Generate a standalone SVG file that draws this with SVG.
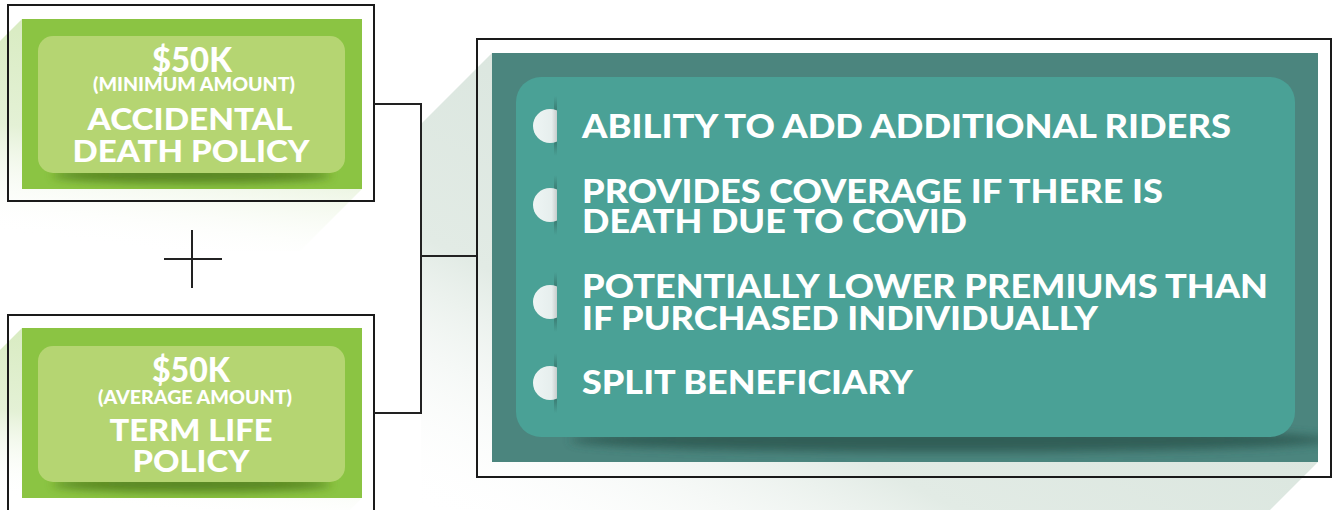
<svg xmlns="http://www.w3.org/2000/svg" width="1335" height="510" viewBox="0 0 1335 510">
<style>
.t{font-family:Lato,"Open Sans","Liberation Sans",sans-serif;font-weight:900;fill:#ffffff;}
.c{text-anchor:middle;}
.frame{fill:none;stroke:#1a1a1a;stroke-width:2;}
.conn{fill:none;stroke:#222;stroke-width:2;}
.gOut{fill:#8bc443;}
.gIn{fill:#b5d572;}
.tOut{fill:#4b857e;}
.tIn{fill:#4aa196;}
</style>
<defs>
<linearGradient id="shG" x1="0.6" y1="0" x2="0.4" y2="1">
<stop offset="0" stop-color="#d6eabd"/>
<stop offset="0.55" stop-color="#e4f1d6"/>
<stop offset="1" stop-color="#ffffff" stop-opacity="0"/>
</linearGradient>
<linearGradient id="shT" x1="1" y1="0" x2="0" y2="1">
<stop offset="0" stop-color="#cfded5"/>
<stop offset="0.7" stop-color="#e2ebe5"/>
<stop offset="1" stop-color="#ffffff" stop-opacity="0"/>
</linearGradient>
<linearGradient id="bulG" x1="0" y1="0" x2="1" y2="0">
<stop offset="0" stop-color="#eef5f4"/>
<stop offset="0.55" stop-color="#e6eeed"/>
<stop offset="1" stop-color="#8d8d8d"/>
</linearGradient>
<linearGradient id="bulL" x1="0" y1="0" x2="0" y2="1">
<stop offset="0" stop-color="#2e5f57" stop-opacity="0"/>
<stop offset="0.35" stop-color="#2e5f57" stop-opacity="0.8"/>
<stop offset="0.65" stop-color="#2e5f57" stop-opacity="0.8"/>
<stop offset="1" stop-color="#2e5f57" stop-opacity="0"/>
</linearGradient>
<filter id="blur" x="-20%" y="-100%" width="140%" height="300%">
<feGaussianBlur stdDeviation="5"/>
</filter>
<clipPath id="cg1"><rect x="22" y="19" width="340" height="170"/></clipPath>
<clipPath id="cg2"><rect x="22" y="328" width="340" height="170"/></clipPath>
<clipPath id="ct"><rect x="492" y="53" width="826" height="409"/></clipPath>
<clipPath id="cbx"><rect x="530" y="-20" width="27" height="40"/></clipPath>
<g id="bullet">
<rect x="554" y="-30" width="3" height="60" fill="url(#bulL)"/>
<circle cx="550" cy="0" r="17" fill="url(#bulG)" clip-path="url(#cbx)"/>
</g>
</defs>
<rect width="1335" height="510" fill="#ffffff"/>

<g id="shadows">
<polygon points="22,19 362,189 300,251 0,251 0,41" fill="url(#shG)"/>
<polygon points="22,328 362,498 350,510 0,510 0,350" fill="url(#shG)"/>
<polygon points="492,53 1318,462 1270,510 421,510 421,124" fill="url(#shT)"/>
</g>

<g id="node-accidental">
<rect class="gOut" x="22" y="19" width="340" height="170"/>
<g clip-path="url(#cg1)">
<ellipse cx="192" cy="175" rx="140" ry="8" fill="#4f7a1e" opacity="0.85" filter="url(#blur)"/>
</g>
<rect class="gIn" x="38" y="36" width="307" height="137" rx="15"/>
<rect class="frame" x="8" y="5" width="366" height="196"/>
<text class="t c" x="192" y="72" font-size="34" textLength="80" lengthAdjust="spacingAndGlyphs">$50K</text>
<text class="t c" x="194" y="91" font-size="18" textLength="202" lengthAdjust="spacingAndGlyphs">(MINIMUM AMOUNT)</text>
<text class="t c" x="190" y="130" font-size="31" textLength="205" lengthAdjust="spacingAndGlyphs">ACCIDENTAL</text>
<text class="t c" x="191" y="162" font-size="31" textLength="237" lengthAdjust="spacingAndGlyphs">DEATH POLICY</text>
</g>

<g id="node-term">
<rect class="gOut" x="22" y="328" width="340" height="170"/>
<g clip-path="url(#cg2)">
<ellipse cx="192" cy="484" rx="140" ry="8" fill="#4f7a1e" opacity="0.85" filter="url(#blur)"/>
</g>
<rect class="gIn" x="38" y="346" width="307" height="136" rx="15"/>
<rect class="frame" x="8" y="315" width="366" height="200"/>
<text class="t c" x="191" y="382" font-size="34" textLength="78" lengthAdjust="spacingAndGlyphs">$50K</text>
<text class="t c" x="195" y="404" font-size="18" textLength="194" lengthAdjust="spacingAndGlyphs">(AVERAGE AMOUNT)</text>
<text class="t c" x="191" y="441" font-size="31" textLength="163" lengthAdjust="spacingAndGlyphs">TERM LIFE</text>
<text class="t c" x="191" y="472" font-size="31" textLength="117" lengthAdjust="spacingAndGlyphs">POLICY</text>
</g>

<g id="plus">
<line class="conn" x1="192" y1="230" x2="192" y2="288"/>
<line class="conn" x1="164" y1="259" x2="222" y2="259"/>
</g>

<g id="connectors">
<polyline class="conn" points="374,104 421,104 421,413 374,413"/>
<line class="conn" x1="421" y1="256" x2="478" y2="256"/>
</g>

<g id="node-benefits">
<rect class="tOut" x="492" y="53" width="826" height="409"/>
<g clip-path="url(#ct)">
<ellipse cx="950" cy="440" rx="380" ry="12" fill="#2c554e" opacity="0.8" filter="url(#blur)"/>
</g>
<rect class="tIn" x="516" y="77" width="779" height="360" rx="25"/>
<rect class="frame" x="477" y="39" width="854" height="438"/>
<use href="#bullet" y="126"/>
<use href="#bullet" y="205"/>
<use href="#bullet" y="302"/>
<use href="#bullet" y="383"/>
<text class="t" x="582" y="138" font-size="33" textLength="649" lengthAdjust="spacingAndGlyphs">ABILITY TO ADD ADDITIONAL RIDERS</text>
<text class="t" x="582" y="203" font-size="33" textLength="581" lengthAdjust="spacingAndGlyphs">PROVIDES COVERAGE IF THERE IS</text>
<text class="t" x="582" y="233" font-size="33" textLength="385" lengthAdjust="spacingAndGlyphs">DEATH DUE TO COVID</text>
<text class="t" x="582" y="298" font-size="33" textLength="686" lengthAdjust="spacingAndGlyphs">POTENTIALLY LOWER PREMIUMS THAN</text>
<text class="t" x="582" y="330" font-size="33" textLength="516" lengthAdjust="spacingAndGlyphs">IF PURCHASED INDIVIDUALLY</text>
<text class="t" x="582" y="394" font-size="33" textLength="331" lengthAdjust="spacingAndGlyphs">SPLIT BENEFICIARY</text>
</g>
</svg>
